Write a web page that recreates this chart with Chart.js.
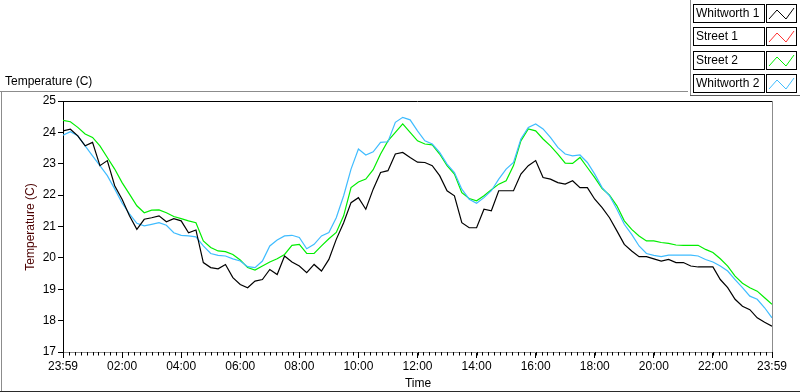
<!DOCTYPE html>
<html><head><meta charset="utf-8">
<script src="https://cdn.jsdelivr.net/npm/chart.js@4/dist/chart.umd.min.js"></script>
<style>
html,body{margin:0;padding:0;background:#fff;}
#wrap{position:relative;width:800px;height:392px;overflow:hidden;font-family:"Liberation Sans",Arial,sans-serif;font-size:12px;color:#000;}
#c{position:absolute;left:0;top:0;}
.ln{position:absolute;}
.lab{position:absolute;left:693px;width:68px;height:17px;border:1px solid #000;line-height:17px;padding-left:2px;box-sizing:content-box;white-space:nowrap;}
.sw{position:absolute;left:766px;width:29px;height:17px;border:1px solid #000;}
.sw svg{position:absolute;left:0;top:0;}
#ytitle{position:absolute;left:30px;top:227px;transform:translate(-50%,-50%) rotate(-90deg);white-space:nowrap;color:#4b0000;}
#xtitle{position:absolute;left:418px;top:376px;transform:translateX(-50%);white-space:nowrap;}
#ttl{position:absolute;left:5px;top:74px;white-space:nowrap;}
</style></head>
<body><div id="wrap">
<canvas id="c" width="800" height="392"></canvas>
<div class="ln" style="left:0;top:91px;width:688px;height:1px;background:#8c8c8c"></div>
<div class="ln" style="left:1px;top:91px;width:1px;height:301px;background:#8c8c8c"></div>
<div class="ln" style="left:0;top:391px;width:800px;height:1px;background:#2a2a2a"></div>
<div class="ln" style="left:690px;top:0;width:1px;height:96px;background:#8c8c8c"></div>
<div class="ln" style="left:690px;top:95px;width:110px;height:1px;background:#5a5a5a"></div>
<div id="ttl">Temperature (C)</div>
<div id="ytitle">Temperature (C)</div>
<div id="xtitle">Time</div>
<div id="legend"></div>
</div>
<script>
const seriesNames = ["Whitworth 1", "Street 1", "Street 2", "Whitworth 2"];
const seriesColors = ["#000000", "#ff3030", "#00ee00", "#3fbcff"];
const hours = [0,0.25,0.5,0.75,1,1.25,1.5,1.75,2,2.25,2.5,2.75,3,3.25,3.5,3.75,4,4.25,4.5,4.75,5,5.25,5.5,5.75,6,6.25,6.5,6.75,7,7.25,7.5,7.75,8,8.25,8.5,8.75,9,9.25,9.5,9.75,10,10.25,10.5,10.75,11,11.25,11.5,11.75,12,12.25,12.5,12.75,13,13.25,13.5,13.75,14,14.25,14.5,14.75,15,15.25,15.5,15.75,16,16.25,16.5,16.75,17,17.25,17.5,17.75,18,18.25,18.5,18.75,19,19.25,19.5,19.75,20,20.25,20.5,20.75,21,21.25,21.5,21.75,22,22.25,22.5,22.75,23,23.25,23.5,23.75,24];
const whitworth1 = [24.05,24.1,23.89,23.57,23.68,22.94,23.1,22.3,21.87,21.34,20.91,21.23,21.28,21.34,21.15,21.25,21.18,20.8,20.89,19.85,19.69,19.65,19.79,19.37,19.15,
19.05,19.26,19.31,19.63,19.47,20.06,19.87,19.74,19.53,19.79,19.58,19.95,20.59,21.12,21.76,21.92,21.55,22.19,22.72,22.78,23.31,23.36,23.2,23.05,
23.04,22.94,22.62,22.14,21.98,21.12,20.96,20.96,21.55,21.5,22.14,22.14,22.14,22.67,22.94,23.1,22.56,22.51,22.4,22.35,22.46,22.24,22.24,21.87,
21.6,21.28,20.86,20.43,20.22,20.04,20.04,19.97,19.9,19.95,19.85,19.85,19.74,19.71,19.71,19.71,19.31,19.05,18.68,18.46,18.35,18.09,17.95,17.82];
const street1 = [];
const street2 = [24.38,24.34,24.16,23.95,23.84,23.57,23.2,22.83,22.4,22.03,21.66,21.44,21.52,21.53,21.44,21.32,21.25,21.18,21.12,20.54,20.33,20.22,20.2,20.11,19.93,
19.69,19.61,19.74,19.87,19.97,20.11,20.4,20.43,20.14,20.14,20.38,20.61,20.81,21.34,22.24,22.42,22.51,22.81,23.31,23.73,24.0,24.27,24.0,23.73,
23.63,23.6,23.31,22.94,22.67,22.08,21.89,21.82,21.98,22.17,22.35,22.46,22.94,23.73,24.11,24.05,23.79,23.57,23.31,23.02,23.01,23.2,22.88,22.56,
22.21,22.0,21.66,21.18,20.91,20.7,20.54,20.54,20.49,20.46,20.41,20.4,20.4,20.4,20.27,20.17,19.97,19.74,19.42,19.19,19.05,18.94,18.73,18.52];
const whitworth2 = [23.91,24.02,23.89,23.57,23.25,22.94,22.62,22.2,21.75,21.4,21.1,21.02,21.07,21.12,21.04,20.8,20.72,20.7,20.67,20.38,20.14,20.08,20.06,19.97,19.9,
19.72,19.69,19.9,20.38,20.57,20.7,20.72,20.65,20.29,20.43,20.7,20.81,21.28,21.98,22.83,23.47,23.28,23.38,23.68,23.7,24.32,24.48,24.4,24.05,
23.73,23.63,23.36,22.99,22.72,22.19,21.87,21.74,21.92,22.14,22.51,22.83,23.04,23.79,24.16,24.27,24.11,23.84,23.52,23.31,23.25,23.28,23.04,22.67,
22.24,21.98,21.55,21.07,20.75,20.38,20.14,20.08,20.04,20.09,20.09,20.09,20.09,20.06,19.95,19.87,19.74,19.58,19.31,19.05,18.78,18.68,18.41,18.09];
const xTickLabels = {0:"23:59",2:"02:00",4:"04:00",6:"06:00",8:"08:00",10:"10:00",12:"12:00",14:"14:00",16:"16:00",18:"18:00",20:"20:00",22:"22:00",24:"23:59"};
const yTicks = [17,18,19,20,21,22,23,24,25];

// legend (HTML)
const lg = document.getElementById('legend');
seriesNames.forEach((n,i)=>{
  const top = 4 + i*23.3;
  const a = document.createElement('div'); a.className='lab'; a.style.top=top+'px'; a.textContent=n; lg.appendChild(a);
  const s = document.createElement('div'); s.className='sw'; s.style.top=top+'px';
  s.innerHTML = '<svg width="29" height="17"><polyline points="2,14 10,5 19,14 27,3" fill="none" stroke="'+seriesColors[i]+'" stroke-width="1"/></svg>';
  lg.appendChild(s);
});

const allSeries = [whitworth1, street1, street2, whitworth2];
const datasets = allSeries.map((arr,i)=>({
  label: seriesNames[i],
  data: arr.map((v,k)=>({x:hours[k], y:v})),
  borderColor: seriesColors[i],
  backgroundColor: seriesColors[i],
  borderWidth: 1.2,
  pointRadius: 0,
  tension: 0,
  fill: false,
  order: [1,2,3,2][i]
}));

const framePlugin = {
  id:'frame',
  afterDraw(chart){
    const ctx = chart.ctx, a = chart.chartArea, xs = chart.scales.x;
    ctx.save();
    ctx.lineWidth = 1;
    ctx.strokeStyle = '#000';
    ctx.beginPath(); ctx.moveTo(a.left, a.top+0.5); ctx.lineTo(a.right, a.top+0.5); ctx.stroke();
    ctx.strokeStyle = '#8c8c8c';
    ctx.beginPath(); ctx.moveTo(a.right+0.5, a.top); ctx.lineTo(a.right+0.5, a.bottom); ctx.stroke();
    // minor ticks every 12 minutes
    ctx.strokeStyle = '#000';
    for (let k=0;k<=120;k++){
      const px = Math.round(xs.getPixelForValue(k*0.2))+0.5;
      ctx.beginPath(); ctx.moveTo(px, a.bottom); ctx.lineTo(px, a.bottom+3.5); ctx.stroke();
    }
    ctx.restore();
  }
};

new Chart(document.getElementById('c'), {
  type:'line',
  data:{datasets},
  options:{
    responsive:false, animation:false, devicePixelRatio:1,
    layout:{padding:{left:0,top:101,right:28,bottom:0}},
    plugins:{legend:{display:false}, tooltip:{enabled:false}},
    scales:{
      x:{type:'linear', min:0, max:24,
        afterFit(s){ s.height = 40; },
        afterBuildTicks(s){ s.ticks = Object.keys(xTickLabels).map(v=>({value:+v})); },
        ticks:{autoSkip:false, maxRotation:0, padding:1, color:'#000', font:{family:'"Liberation Sans", Arial', size:12},
          callback:(v)=>xTickLabels[v]},
        grid:{drawOnChartArea:false, drawTicks:true, tickLength:6, tickColor:'#000', tickWidth:1},
        border:{color:'#8c8c8c', width:1}
      },
      y:{type:'linear', min:17, max:25,
        afterFit(s){ s.width = 63; },
        afterBuildTicks(s){ s.ticks = yTicks.map(v=>({value:v})); },
        ticks:{padding:2, color:'#000', font:{family:'"Liberation Sans", Arial', size:12}},
        grid:{drawOnChartArea:false, drawTicks:true, tickLength:5, tickColor:'#000'},
        border:{color:'#000', width:1}
      }
    }
  },
  plugins:[framePlugin]
});
</script>
</body></html>
